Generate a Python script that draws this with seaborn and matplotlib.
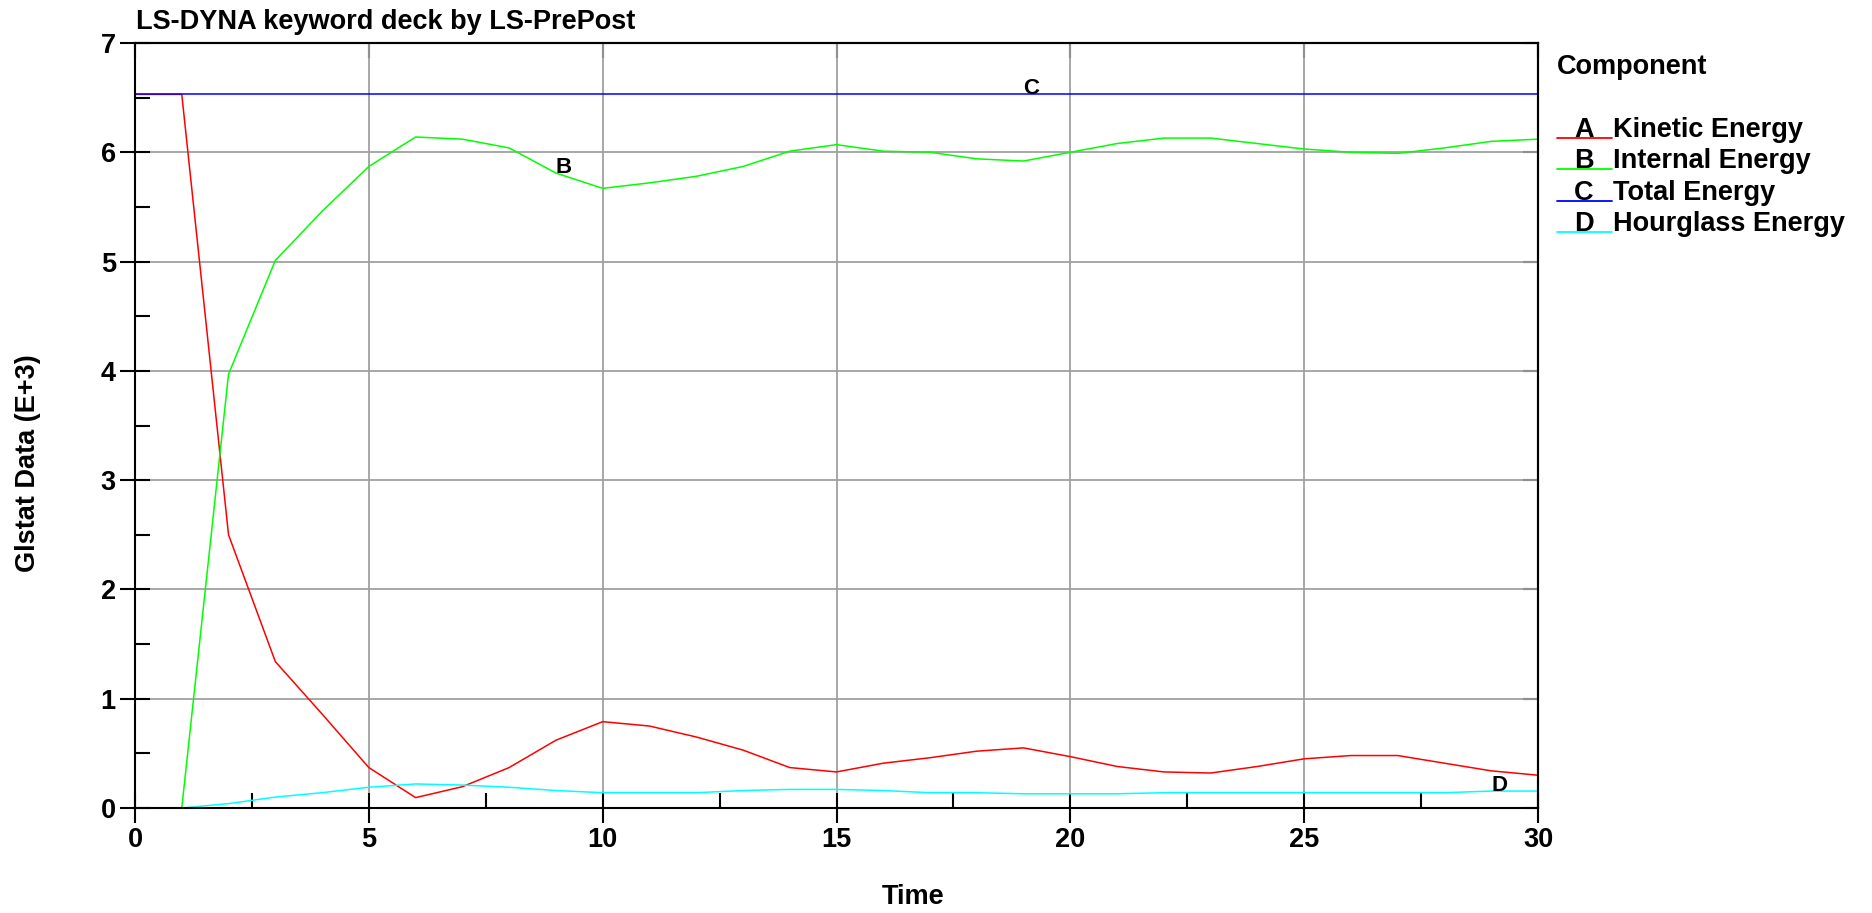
import numpy as np
import pandas as pd
import matplotlib
matplotlib.use("Agg")
import matplotlib.pyplot as plt
from matplotlib.ticker import MultipleLocator, NullLocator
from matplotlib.lines import Line2D
import seaborn as sns

# ---------------- data ----------------
time = [0, 1, 2, 3, 4, 5, 6, 7, 8, 9, 10, 11, 12, 13, 14, 15, 16, 17, 18, 19, 20,
        21, 22, 23, 24, 25, 26, 27, 28, 29, 30]
kinetic = [6.53, 6.53, 2.50, 1.34, 0.86, 0.37, 0.095, 0.195, 0.37, 0.62, 0.79,
           0.75, 0.65, 0.53, 0.37, 0.33, 0.41, 0.46, 0.52, 0.55, 0.47,
           0.38, 0.33, 0.32, 0.38, 0.45, 0.48, 0.48, 0.41, 0.34, 0.30]
internal = [0.0, 0.0, 3.97, 5.01, 5.46, 5.87, 6.14, 6.12, 6.04, 5.81, 5.67,
            5.72, 5.78, 5.87, 6.01, 6.07, 6.01, 6.00, 5.94, 5.92, 6.00,
            6.08, 6.13, 6.13, 6.08, 6.03, 6.00, 5.99, 6.04, 6.10, 6.12]
total = [6.53, 6.53, 6.53, 6.53, 6.53, 6.53, 6.53, 6.53, 6.53, 6.53, 6.53,
         6.53, 6.53, 6.53, 6.53, 6.53, 6.53, 6.53, 6.53, 6.53, 6.53,
         6.53, 6.53, 6.53, 6.53, 6.53, 6.53, 6.53, 6.53, 6.53, 6.53]
hourglass = [0.0, 0.0, 0.04, 0.10, 0.14, 0.19, 0.22, 0.21, 0.19, 0.16, 0.14,
             0.14, 0.14, 0.16, 0.17, 0.17, 0.16, 0.14, 0.14, 0.13, 0.13,
             0.13, 0.14, 0.14, 0.14, 0.14, 0.14, 0.14, 0.14, 0.155, 0.155]

letters = ["A", "B", "C", "D"]
names = ["Kinetic Energy", "Internal Energy", "Total Energy", "Hourglass Energy"]
colors = ["#ff0000", "#00ff00", "#0000ff", "#00ffff"]
series = [kinetic, internal, total, hourglass]
label_time = {"B": 9, "C": 19, "D": 29}

title = "LS-DYNA keyword deck by LS-PrePost"
xlabel = "Time"
ylabel = "Glstat Data (E+3)"
legend_title = "Component"

# ---------------- style ----------------
sns.set_theme(style="white")
plt.rcParams["font.family"] = ["Liberation Sans", "DejaVu Sans"]
plt.rcParams["font.weight"] = "bold"
plt.rcParams["text.color"] = "black"
plt.rcParams["xtick.color"] = "black"
plt.rcParams["ytick.color"] = "black"
plt.rcParams["xtick.labelcolor"] = "black"
plt.rcParams["ytick.labelcolor"] = "black"

W, H = 1872, 913
fig = plt.figure(figsize=(W / 100, H / 100), dpi=100)
left, right, bottom, top = 135 / W, 1538 / W, 1 - 808 / H, 1 - 43 / H
ax = fig.add_axes([left, bottom, right - left, top - bottom])

df = pd.concat(
    [pd.DataFrame({"Time": time, "Value": s, "Component": L})
     for s, L in zip(series, letters)],
    ignore_index=True)

sns.lineplot(data=df, x="Time", y="Value", hue="Component", hue_order=letters,
             palette=colors, linewidth=1.1, legend=False, ax=ax, estimator=None)

ax.set_xlim(0, 30)
ax.set_ylim(0, 7)
ax.set_xlabel("")
ax.set_ylabel("")
ax.xaxis.set_major_locator(MultipleLocator(5))
ax.xaxis.set_minor_locator(MultipleLocator(2.5))
ax.yaxis.set_major_locator(MultipleLocator(1))
ax.yaxis.set_minor_locator(MultipleLocator(0.5))
ax.grid(which="major", color="#a0a0a0", linewidth=1.3)
ax.set_axisbelow(True)
for sp in ax.spines.values():
    sp.set_color("black")
    sp.set_linewidth(1.5)

ax.tick_params(which="major", direction="inout", length=21.6, width=1.5,
               color="black", labelcolor="black", labelsize=19.5, pad=3)
ax.tick_params(which="minor", direction="in", length=10.8, width=1.5,
               color="black")
ax.tick_params(axis="x", which="both", bottom=True)
ax.tick_params(axis="y", which="both", left=True)
for lab in ax.get_xticklabels() + ax.get_yticklabels():
    lab.set_fontweight("bold")

secx = ax.secondary_xaxis("top")
secx.xaxis.set_major_locator(MultipleLocator(5))
secx.xaxis.set_minor_locator(NullLocator())
secx.tick_params(direction="in", length=10.8, width=1.5, color="black",
                 labeltop=False)
secx.spines["top"].set_linewidth(1.5)
secx.spines["top"].set_color("black")
secy = ax.secondary_yaxis("right")
secy.yaxis.set_major_locator(MultipleLocator(1))
secy.yaxis.set_minor_locator(NullLocator())
secy.tick_params(direction="in", length=10.8, width=1.5, color="black",
                 labelright=False)
secy.spines["right"].set_linewidth(1.5)
secy.spines["right"].set_color("black")

# curve labels
for L, s in zip(letters, series):
    if L in label_time:
        t = label_time[L]
        ax.text(t, s[time.index(t)], L, ha="left", va="baseline",
                fontsize=16, fontweight="bold", color="black")

# titles
fig.text(136 / W, 1 - 29 / H, title, ha="left", va="baseline",
         fontsize=19.5, fontweight="bold", color="black")
fig.text(913 / W, 1 - 897 / H, xlabel, ha="center", va="center",
         fontsize=19.5, fontweight="bold", color="black")
fig.text(28 / W, 1 - 463 / H, ylabel, ha="center", va="center", rotation=90,
         fontsize=19.5, fontweight="bold", color="black")

# legend
fig.text(1557 / W, 1 - 74 / H, legend_title, ha="left", va="baseline",
         fontsize=19.5, fontweight="bold", color="black")
for i, (L, n, c) in enumerate(zip(letters, names, colors)):
    ypx = 137.7 + i * 31.5
    yf = 1 - ypx / H
    fig.add_artist(Line2D([1557 / W, 1612 / W], [yf, yf], color=c,
                          linewidth=1.3, transform=fig.transFigure))
    fig.text(1584 / W, 1 - (ypx - 1) / H, L, ha="center", va="baseline",
             fontsize=19.5, fontweight="bold", color="black")
    fig.text(1613 / W, 1 - (ypx - 1) / H, n, ha="left", va="baseline",
             fontsize=19.5, fontweight="bold", color="black")

fig.savefig("out.png", dpi=100)
